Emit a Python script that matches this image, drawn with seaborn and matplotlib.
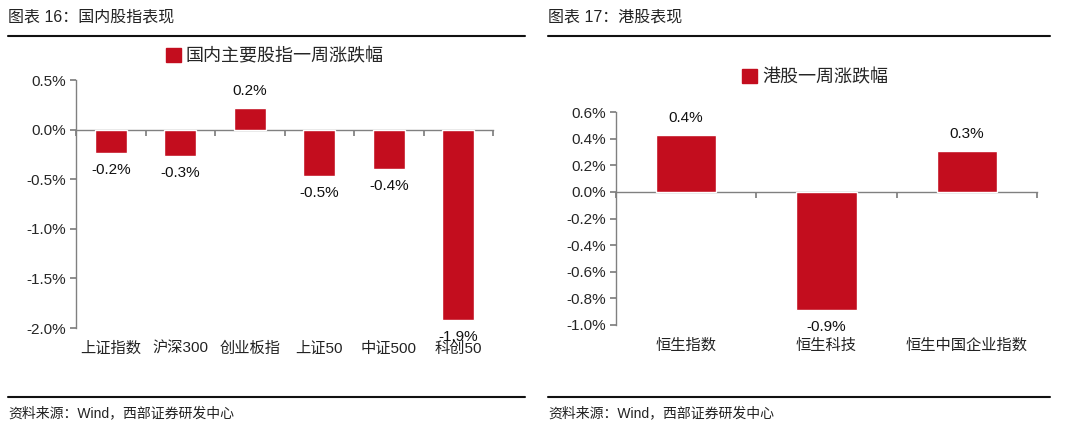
import numpy as np
import matplotlib
matplotlib.use("Agg")
import matplotlib.pyplot as plt
import matplotlib.transforms as mtransforms
from matplotlib.patches import Patch
import seaborn as sns

# data
cn_names = ['上证指数', '沪深300', '创业板指', '上证50', '中证500', '科创50']
cn_chg = [-0.24, -0.27, 0.22, -0.47, -0.40, -1.92]
hk_names = ['恒生指数', '恒生科技', '恒生中国企业指数']
hk_chg = [0.43, -0.89, 0.31]

red = '#C30D1E'
gray = '#808080'

sns.set_theme(style='white')
plt.rcParams['font.family'] = ['Liberation Sans', 'Noto Sans CJK SC']
plt.rcParams['axes.unicode_minus'] = False

fig = plt.figure(figsize=(10.8, 4.37), dpi=100)


def pct(t):
    t = round(t, 1)
    if t == 0:
        t = 0.0
    return f'{t:.1f}%'


def draw_panel(ax, names, vals, ymin, ymax, step, width, legend_txt, legend_xy, fig_title, x0, x1):
    sns.barplot(x=names, y=vals, color=red, saturation=1, width=width, ax=ax, zorder=3)
    ax.set_ylim(ymin, ymax)
    ax.set_xlim(-0.5, len(names) - 0.5)
    ticks = np.arange(ymin, ymax + step / 2, step)
    ax.set_yticks(ticks)
    ax.set_yticklabels([pct(t) for t in ticks], fontsize=11)
    ax.set_xlabel('')
    ax.set_ylabel('')
    for s in ['top', 'right']:
        ax.spines[s].set_visible(False)
    ax.spines['bottom'].set_position(('data', 0))
    for s in ['left', 'bottom']:
        ax.spines[s].set_color(gray)
        ax.spines[s].set_linewidth(1)
        ax.spines[s].set_zorder(2)
    ax.tick_params(axis='y', direction='out', length=4, color=gray, left=True, pad=3)
    ax.set_xticks(np.arange(-0.5, len(names), 1.0))
    ax.set_xticklabels([])
    ax.tick_params(axis='x', direction='out', length=4, color=gray, bottom=True)
    # category names below the plot
    trans = mtransforms.blended_transform_factory(ax.transData, ax.transAxes)
    trans = mtransforms.offset_copy(trans, fig=fig, y=-10, units='points')
    for i, n in enumerate(names):
        ax.text(i, 0, n, transform=trans, ha='center', va='top', fontsize=11,
                color='#222222')
    # value labels
    ax.bar_label(ax.containers[0], labels=[pct(v) for v in vals],
                 padding=7, fontsize=11, color='#111111')
    # legend
    fig.legend(handles=[Patch(color=red)], labels=[legend_txt], loc='center',
               bbox_to_anchor=legend_xy, frameon=False, fontsize=13,
               handlelength=0.8, handleheight=0.8, handletextpad=0.3)
    # header and footer
    fig.text(x0, 1 - 17 / 437, fig_title, fontsize=11.5, ha='left', va='center',
             color='#222222')
    fig.add_artist(plt.Line2D([x0, x1], [1 - 36 / 437, 1 - 36 / 437],
                              color='#111111', lw=1.5))
    fig.add_artist(plt.Line2D([x0, x1], [1 - 397 / 437, 1 - 397 / 437],
                              color='#111111', lw=1.5))
    fig.text(x0, 1 - 413 / 437, '资料来源：Wind，西部证券研发中心', fontsize=10,
             ha='left', va='center', color='#222222')


ax1 = fig.add_axes([76 / 1080, 1 - 328 / 437, (493 - 76) / 1080, (328 - 80) / 437])
draw_panel(ax1, cn_names, cn_chg, -2.0, 0.5, 0.5, 0.46, '国内主要股指一周涨跌幅',
           (275 / 1080, 1 - 57 / 437), '图表 16：国内股指表现', 8 / 1080, 525 / 1080)

ax2 = fig.add_axes([616 / 1080, 1 - 325 / 437, (1037 - 616) / 1080, (325 - 112) / 437])
draw_panel(ax2, hk_names, hk_chg, -1.0, 0.6, 0.2, 0.43, '港股一周涨跌幅',
           (815 / 1080, 1 - 78 / 437), '图表 17：港股表现', 548 / 1080, 1050 / 1080)

fig.savefig('out.png', dpi=100)
